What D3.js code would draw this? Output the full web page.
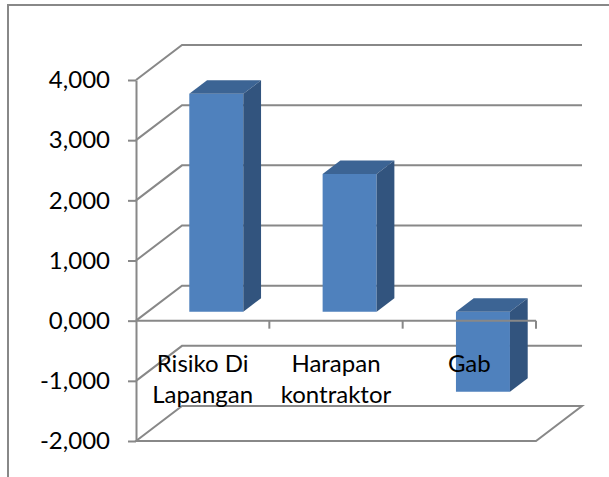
<!DOCTYPE html>
<meta charset="utf-8">
<script src="https://d3js.org/d3.v7.min.js"></script>
<style>
  body { margin: 0; background: #fff; }
  text { font-family: Lato, "Open Sans", sans-serif; fill: #000; }
</style>
<div id="chart"></div>
<script>

// data
const categories = ["Risiko Di Lapangan", "Harapan kontraktor", "Gab"];
const categoryLines = [["Risiko Di", "Lapangan"], ["Harapan", "kontraktor"], ["Gab"]];
const values = [3.62, 2.29, -1.33];
const tickValues = [-2, -1, 0, 1, 2, 3, 4];
const tickLabels = ["-2,000", "-1,000", "0,000", "1,000", "2,000", "3,000", "4,000"];

const W = 609, H = 477;
const depth = {dx: 46, dy: -35};   // full depth of the 3d box on screen
const gridColor = "#888888";

const svg = d3.select("#chart").append("svg")
    .attr("width", W)
    .attr("height", H);

// chart frame (only top and left edges show)
svg.append("path")
    .attr("d", `M8,${H} L8,5 L${W},5`)
    .attr("fill", "none")
    .attr("stroke", gridColor)
    .attr("stroke-width", 2);

const x = d3.scaleBand()
    .domain(categories)
    .range([136, 536]);

const y = d3.scaleLinear()
    .domain([-2, 4])
    .range([441, 80]);

// project point in front plane (px, value) pushed back by z in [0,1]
function P(px, v, z) {
  return [px + depth.dx * z, y(v) + depth.dy * z];
}

const x0 = x.range()[0], x1 = x.range()[1];

// walls: side diagonal + back line for each tick, floor at the bottom
svg.append("g")
  .selectAll("path")
  .data(tickValues)
  .join("path")
    .attr("fill", "none")
    .attr("stroke", gridColor)
    .attr("stroke-width", 2)
    .attr("d", v => {
      const a = P(x0, v, 0), b = P(x0, v, 1), c = P(x1, v, 1);
      let d = `M${a} L${b} L${c}`;
      if (v === tickValues[0]) {
        const e = P(x1, v, 0);
        d += ` L${e} Z`;
      }
      return d;
    });

// bars
const zFront = 0.257, zBack = 0.643;
const bw = x.bandwidth();

const bars = svg.append("g")
  .selectAll("g")
  .data(categories.map((c, i) => ({cat: c, value: values[i]})))
  .join("g");

function poly(pts) { return "M" + pts.join("L") + "Z"; }

bars.each(function(d) {
  const g = d3.select(this);
  const l = x(d.cat) + 0.311 * bw;
  const r = l + 0.405 * bw;
  const vt = Math.max(0, d.value), vb = Math.min(0, d.value);
  // front face
  g.append("path")
    .attr("d", poly([P(l, vt, zFront), P(r, vt, zFront), P(r, vb, zFront), P(l, vb, zFront)]))
    .attr("fill", "#4F81BD");
  // top face
  g.append("path")
    .attr("d", poly([P(l, vt, zFront), P(r, vt, zFront), P(r, vt, zBack), P(l, vt, zBack)]))
    .attr("fill", "#3C6494");
  // right side
  g.append("path")
    .attr("d", poly([P(r, vt, zFront), P(r, vt, zBack), P(r, vb, zBack), P(r, vb, zFront)]))
    .attr("fill", "#32547E");
});

// value axis
const yAxis = svg.append("g")
    .attr("transform", `translate(${x0},0)`)
    .call(d3.axisLeft(y)
      .tickValues(tickValues)
      .tickFormat((d, i) => tickLabels[i])
      .tickSize(8)
      .tickSizeOuter(0)
      .tickPadding(18));
yAxis.selectAll("path, line")
    .attr("stroke", gridColor)
    .attr("stroke-width", 2);
yAxis.selectAll("text")
    .attr("font-size", 24)
    .attr("font-family", "Lato, sans-serif")
    .attr("fill", "#000");

// category axis at zero
const catAxis = svg.append("g");
catAxis.append("line")
    .attr("x1", x0).attr("x2", x1)
    .attr("y1", y(0)).attr("y2", y(0))
    .attr("stroke", gridColor)
    .attr("stroke-width", 2);
catAxis.selectAll(".tick")
  .data(categories)
  .join("line")
    .attr("x1", d => x(d) + bw).attr("x2", d => x(d) + bw)
    .attr("y1", y(0)).attr("y2", y(0) + 8)
    .attr("stroke", gridColor)
    .attr("stroke-width", 2);

// category labels
const labels = svg.append("g")
  .selectAll("text")
  .data(categories)
  .join("text")
    .attr("text-anchor", "middle")
    .attr("font-size", 24)
    .attr("x", d => x(d) + bw / 2)
    .attr("y", 372);

labels.selectAll("tspan")
  .data((d, i) => categoryLines[i])
  .join("tspan")
    .attr("x", function() { return d3.select(this.parentNode).attr("x"); })
    .attr("dy", (d, i) => i === 0 ? 0 : 31)
    .text(d => d);

</script>
